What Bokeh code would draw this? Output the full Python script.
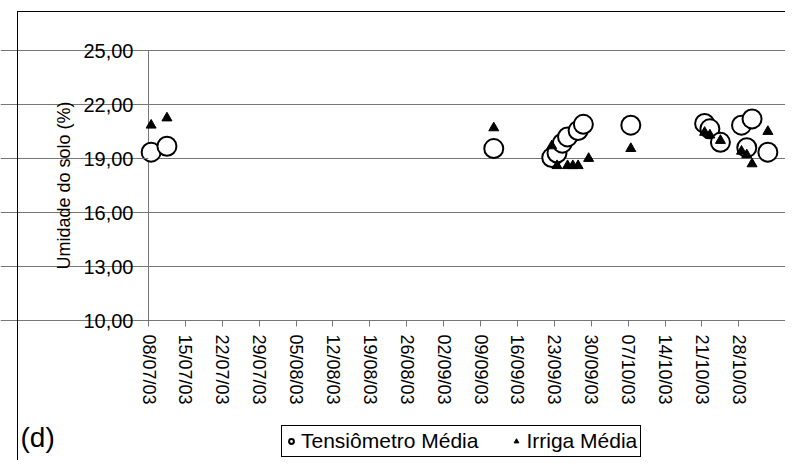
import pandas as pd
from bokeh.plotting import figure
from bokeh.models import (Range1d, FixedTicker, DatetimeTickFormatter, Legend,
                          LegendItem, Label, ColumnDataSource, InlineStyleSheet,
                          BoxAnnotation)
from bokeh.embed import file_html
from bokeh.resources import INLINE

# ---- data ----
x_tick_labels = ["08/07/03", "15/07/03", "22/07/03", "29/07/03", "05/08/03",
                 "12/08/03", "19/08/03", "26/08/03", "02/09/03", "09/09/03",
                 "16/09/03", "23/09/03", "30/09/03", "07/10/03", "14/10/03",
                 "21/10/03", "28/10/03"]
y_ticks = [10, 13, 16, 19, 22, 25]
y_tick_labels = ["10,00", "13,00", "16,00", "19,00", "22,00", "25,00"]

tens_dates = ["08/07/03", "11/07/03", "11/09/03", "22/09/03", "23/09/03",
              "24/09/03", "25/09/03", "27/09/03", "28/09/03", "07/10/03",
              "21/10/03", "22/10/03", "24/10/03", "28/10/03", "29/10/03",
              "30/10/03", "02/11/03"]
tens_vals = [19.35, 19.68, 19.55, 19.05, 19.3, 19.85, 20.2, 20.55, 20.9, 20.85,
             20.95, 20.65, 19.9, 20.85, 19.6, 21.2, 19.35]

irr_dates = ["08/07/03", "11/07/03", "11/09/03", "22/09/03", "23/09/03",
             "25/09/03", "26/09/03", "27/09/03", "29/09/03", "07/10/03",
             "21/10/03", "22/10/03", "24/10/03", "28/10/03", "29/10/03",
             "30/10/03", "02/11/03"]
irr_vals = [20.85, 21.25, 20.7, 19.7, 18.6, 18.6, 18.6, 18.6, 19.0, 19.55,
            20.45, 20.3, 20.0, 19.4, 19.2, 18.7, 20.5]

x_start, x_end = "08/07/03", "03/11/03"
y_min, y_max = 10, 25

FMT = "%d/%m/%y"
half_day = pd.Timedelta(hours=12)
tens_src = ColumnDataSource(dict(x=pd.to_datetime(tens_dates, format=FMT) + half_day, y=tens_vals))
irr_src = ColumnDataSource(dict(x=pd.to_datetime(irr_dates, format=FMT) + half_day, y=irr_vals))


def ms(s):
    return pd.to_datetime(s, format=FMT).value / 1e6


tick_ms = [ms(t) for t in x_tick_labels]
x0, x1 = ms(x_start), ms(x_end)

# ---- layout (pixels) ----
W, H = 785, 460
PL, PR, PT, PB = 148, 770, 50, 320      # plot-area box inside the canvas
kx = (PR - PL) / (x1 - x0)
ky = (PB - PT) / (y_max - y_min)
xr = Range1d(x0 - PL / kx, x1 + (W - PR) / kx)
yr = Range1d(y_min - (H - PB) / ky, y_max + PT / ky)

FONT = "Liberation Sans"
GRAY = "#767676"

p = figure(width=W, height=H, output_backend="svg", toolbar_location=None,
           x_axis_type="datetime", x_range=xr, y_range=yr,
           min_border_left=0, min_border_right=0, min_border_top=0, min_border_bottom=0)
p.outline_line_color = None
p.background_fill_color = "white"
p.border_fill_color = "white"

# outer chart-area border (left and top edges visible)
p.stylesheets = [InlineStyleSheet(css=(
    ":host{position:relative;}"
    ":host::after{content:'';position:absolute;left:17px;top:11px;right:0;bottom:0;"
    "border-left:1px solid black;border-top:1px solid black;pointer-events:none;z-index:10;}"))]

# grid
p.xgrid.visible = False
p.ygrid.grid_line_color = GRAY
p.ygrid.grid_line_width = 1
p.ygrid.bounds = (x0, x1)
p.ygrid.ticker = FixedTicker(ticks=y_ticks)

# axis lines limited to the plot area
p.segment(x0=[x0, x0], y0=[y_min, y_min], x1=[x0, x1], y1=[y_max, y_min],
          line_color=GRAY, line_width=1)

# axes
xa = p.xaxis[0]
xa.fixed_location = y_min
xa.bounds = (float(x0), float(x1))
xa.ticker = FixedTicker(ticks=tick_ms)
fmt = "%d/%m/%y"
xa.formatter = DatetimeTickFormatter(milliseconds=fmt, seconds=fmt, minsec=fmt, minutes=fmt,
                                     hourmin=fmt, hours=fmt, days=fmt, months=fmt, years=fmt)
xa.major_label_orientation = "vertical"
xa.major_label_text_font = FONT
xa.major_label_text_font_size = "18px"
xa.major_label_text_color = "black"
xa.major_label_standoff = 8

ya = p.yaxis[0]
ya.fixed_location = x0
ya.bounds = (float(y_min), float(y_max))
ya.ticker = FixedTicker(ticks=y_ticks)
ya.major_label_overrides = {t: l for t, l in zip(y_ticks, y_tick_labels)}
ya.major_label_text_font = FONT
ya.major_label_text_font_size = "20px"
ya.major_label_text_color = "black"
ya.major_label_standoff = 9
ya.axis_label = "Umidade do solo (%)"
ya.axis_label_text_font = FONT
ya.axis_label_text_font_size = "18px"
ya.axis_label_text_font_style = "normal"
ya.axis_label_text_color = "black"
ya.axis_label_standoff = 6

for ax in (xa, ya):
    ax.axis_line_color = None
    ax.major_tick_line_color = GRAY
    ax.major_tick_line_width = 1
    ax.major_tick_out = 6
    ax.major_tick_in = 0
    ax.minor_tick_line_color = None

# keep the area above the top gridline clean
p.add_layout(BoxAnnotation(left=x0 - 4 / kx, right=x0 + 4 / kx,
                           bottom=y_max + 1.5 / ky, top=yr.end,
                           fill_color="white", fill_alpha=1, line_color=None,
                           level="overlay"))

r1 = p.scatter("x", "y", source=tens_src, marker="circle", size=19,
               fill_color="white", line_color="black", line_width=2)
r2 = p.scatter("x", "y", source=irr_src, marker="triangle", size=10,
               fill_color="black", line_color="black")

legend = Legend(items=[LegendItem(label="Tensiômetro Média", renderers=[r1]),
                       LegendItem(label="Irriga Média", renderers=[r2])],
                location=(281, 3), orientation="horizontal")
legend.label_text_font = FONT
legend.label_text_font_size = "21px"
legend.label_text_color = "black"
legend.border_line_color = "black"
legend.border_line_width = 1
legend.border_line_alpha = 1
legend.background_fill_color = "white"
legend.background_fill_alpha = 1
legend.padding = 3
legend.spacing = 32
legend.label_standoff = 4
legend.glyph_width = 12
legend.glyph_height = 14
legend.margin = 0
p.add_layout(legend, "center")

p.add_layout(Label(x=20, y=8, x_units="screen", y_units="screen", text="(d)",
                   text_font=FONT, text_font_size="28px", text_color="black",
                   text_baseline="bottom"))

open("out.html", "w").write(file_html(p, INLINE))
